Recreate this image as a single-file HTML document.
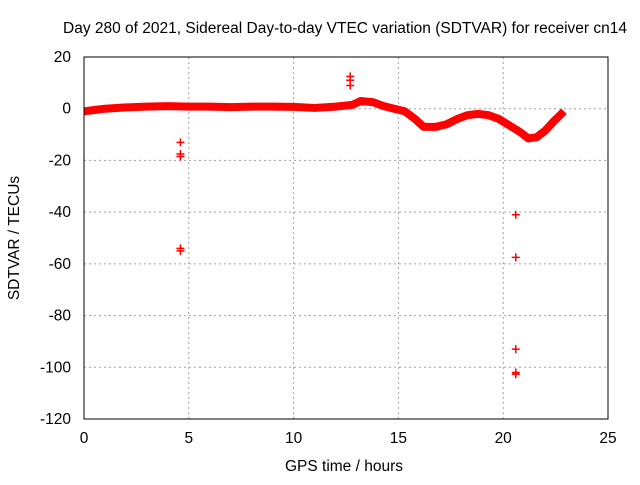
<!DOCTYPE html>
<html><head><meta charset="utf-8"><style>
body{margin:0;background:#fff}
svg{font-family:"Liberation Sans",sans-serif;font-size:15.5px}
</style></head><body>
<svg id="c" width="640" height="480">
<text x="345" y="33" text-anchor="middle">Day 280 of 2021, Sidereal Day-to-day VTEC variation (SDTVAR) for receiver cn14</text>
<text x="344" y="471" text-anchor="middle">GPS time / hours</text>
<text transform="translate(19,238) rotate(-90)" text-anchor="middle">SDTVAR / TECUs</text>
<g id="grid"></g><g id="ticks"></g><g id="marks"></g>
<rect x="84" y="57" width="524" height="362" fill="none" stroke="#000"/>
</svg>
<script>
const xTicks=[0,5,10,15,20,25];
const yTicks=[20,0,-20,-40,-60,-80,-100,-120];
const bandT=[0,0.5,1,2,3,4,5,6,7,8,9,10,11,12,12.8,13.2,13.8,14.3,14.8,15.3,15.8,16.2,16.8,17.3,17.8,18.3,18.8,19.3,19.8,20.3,20.8,21.2,21.6,22,22.4,22.9];
const bandV=[-1,-0.5,0,0.5,0.8,1,0.8,0.8,0.6,0.8,0.8,0.7,0.3,0.8,1.5,3,2.5,1,0,-1,-4,-7,-7,-6,-4,-2.5,-2,-2.5,-4,-6.5,-9,-11.5,-11,-8.5,-5,-1];
const outT=[4.6,4.6,4.6,4.6,4.6,12.7,12.7,12.7,20.6,20.6,20.6,20.6,20.6];
const outV=[-13,-17.5,-18.5,-54,-55,12.5,11,9,-41,-57.5,-93,-102,-102.7];
const X=t=>84+t*524/25, Y=v=>57+(20-v)*362/140;
const NS='http://www.w3.org/2000/svg';
function mk(tag,attrs,parent){const e=document.createElementNS(NS,tag);for(const k in attrs)e.setAttribute(k,attrs[k]);document.getElementById(parent).appendChild(e);return e;}
xTicks.forEach(t=>{
 if(t>0&&t<25){const g=mk('line',{x1:X(t),x2:X(t),y1:57,y2:419,stroke:'#a0a0a0','stroke-dasharray':'2,3'},'grid');
 
 }
 const l=mk('text',{x:X(t),y:443,'text-anchor':'middle'},'ticks');l.textContent=t;
 
 
});
yTicks.forEach(v=>{
 if(v<20&&v>-120){const g=mk('line',{x1:84,x2:608,y1:Y(v),y2:Y(v),stroke:'#a0a0a0','stroke-dasharray':'2,3'},'grid');
 
 }
 const l=mk('text',{x:71,y:Y(v)+5,'text-anchor':'end'},'ticks');l.textContent=v;
 
 
});
const p=mk('polyline',{points:bandT.map((t,i)=>X(t)+','+Y(bandV[i])).join(' '),fill:'none',stroke:'#f00','stroke-width':8,'stroke-linejoin':'round'},'marks');


outT.forEach((t,i)=>{
 const x=X(t),y=Y(outV[i]);
 const m=mk('path',{d:`M${x-4},${y}H${x+4}M${x},${y-4}V${y+4}`,stroke:'#f00','stroke-width':1.5},'marks');
 
 
});
</script>
</body></html>
